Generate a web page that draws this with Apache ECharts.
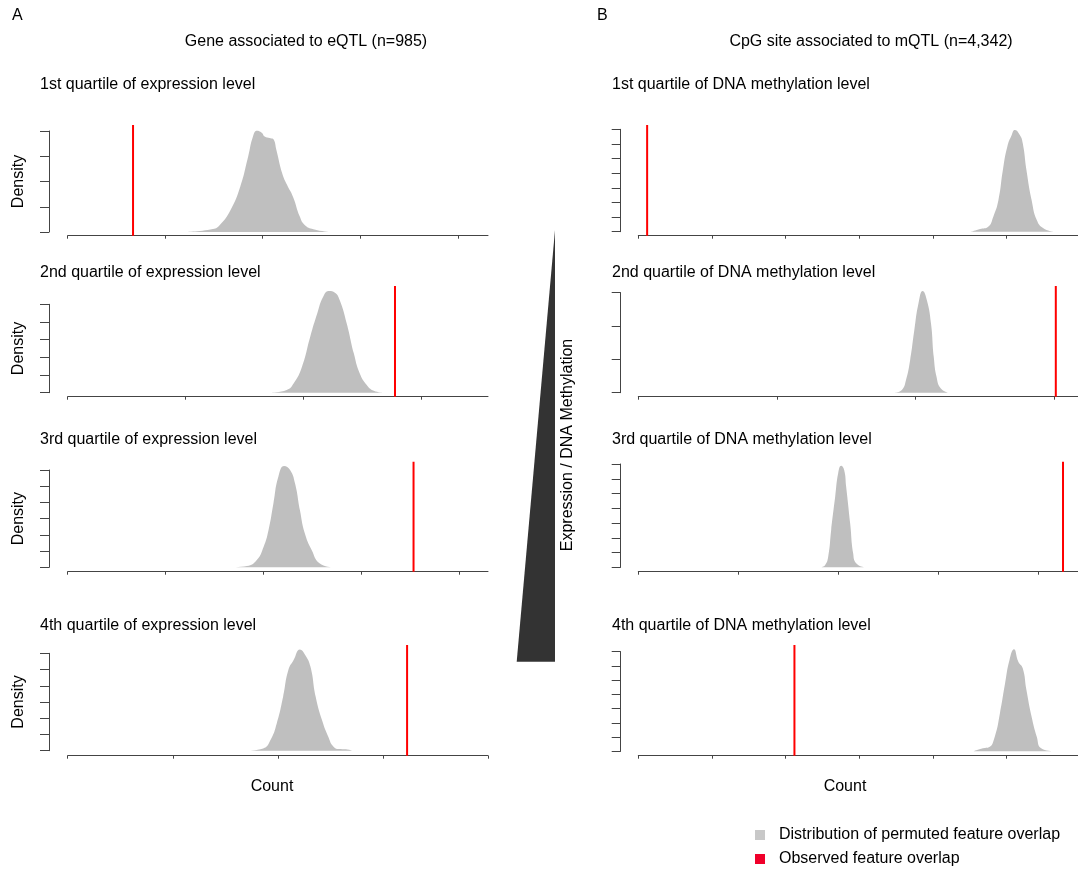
<!DOCTYPE html>
<html>
<head>
<meta charset="utf-8">
<script src="https://cdn.jsdelivr.net/npm/echarts@6/dist/echarts.min.js"></script>
<style>html,body{margin:0;padding:0;background:#fff;}#c{width:1078px;height:873px;}</style>
</head>
<body>
<div id="c"></div>
<script>
// ---------------- DATA ----------------
const headerA = "Gene associated to eQTL (n=985)";
const headerB = "CpG site associated to mQTL (n=4,342)";
const titlesA = ["1st quartile of expression level", "2nd quartile of expression level", "3rd quartile of expression level", "4th quartile of expression level"];
const titlesB = ["1st quartile of DNA methylation level", "2nd quartile of DNA methylation level", "3rd quartile of DNA methylation level", "4th quartile of DNA methylation level"];
const legendNames = ["Distribution of permuted feature overlap", "Observed feature overlap"];

// x values in units of tick spacing (tick labels are not printed in the source)
const xTicksA = [[0,1,2,3,4],[0,1,2,3],[0,1,2,3,4],[0,1,2,3,4]];
const xTicksB = [[0,1,2,3,4,5],[0,1,2,3],[0,1,2,3,4],[0,1,2,3,4,5]];
const xMaxA = [4.31, 3.57, 4.29, 4.0];
const xMaxB = [5.97, 3.17, 4.40, 5.97];
const yMaxA = [4, 5, 6, 6];
const yMaxB = [7, 3, 7, 7];

// observed overlap (red lines)
const observedA = [0.67, 2.78, 3.53, 3.23];
const observedB = [0.12, 3.01, 4.25, 2.12];

// permuted distributions (density curves)
const densA1 = [[1.19,0],[1.49,0.12],[1.56,0.28],[1.67,0.87],[1.77,1.80],[1.85,2.98],[1.90,3.78],[1.94,4.01],[1.99,3.93],[2.02,3.78],[2.08,3.71],[2.11,3.67],[2.14,3.25],[2.20,2.32],[2.25,1.86],[2.31,1.40],[2.38,0.61],[2.43,0.28],[2.52,0.11],[2.69,0]];
const densA2 = [[1.73,0],[1.86,0.15],[1.92,0.53],[1.99,1.47],[2.06,3.17],[2.12,4.49],[2.17,5.43],[2.22,5.75],[2.27,5.66],[2.31,5.24],[2.37,3.92],[2.43,2.23],[2.48,1.10],[2.54,0.44],[2.60,0.11],[2.68,0]];
const densA3 = [[1.66,0],[1.83,0.08],[1.93,0.45],[2.00,1.27],[2.05,2.30],[2.10,3.95],[2.15,5.59],[2.21,6.25],[2.27,6.00],[2.32,5.18],[2.37,3.53],[2.42,2.10],[2.49,1.07],[2.57,0.25],[2.70,0]];
const densA4 = [[1.71,0],[1.86,0.14],[1.93,0.66],[1.99,1.69],[2.05,3.33],[2.10,4.97],[2.15,5.59],[2.21,6.24],[2.26,5.90],[2.31,5.18],[2.36,3.33],[2.42,1.89],[2.48,0.86],[2.53,0.25],[2.59,0.10],[2.66,0.08],[2.71,0]];
const densB1 = [[4.52,0],[4.64,0.18],[4.75,0.34],[4.82,1.03],[4.89,2.17],[4.95,4.22],[5.01,5.81],[5.07,6.61],[5.11,6.95],[5.18,6.61],[5.22,6.04],[5.27,4.22],[5.34,2.17],[5.41,0.80],[5.50,0.23],[5.63,0]];
const densB2 = [[1.85,0],[1.90,0.08],[1.93,0.38],[1.96,0.98],[1.99,1.88],[2.02,2.68],[2.05,3.05],[2.08,2.78],[2.11,2.08],[2.13,1.08],[2.15,0.48],[2.18,0.13],[2.23,0]];
const densB3 = [[1.83,0],[1.87,0.16],[1.90,0.72],[1.93,2.53],[1.97,4.78],[2.00,6.37],[2.03,6.88],[2.06,6.59],[2.08,5.46],[2.12,2.98],[2.15,0.95],[2.18,0.27],[2.26,0]];
const densB4 = [[4.55,0],[4.68,0.21],[4.76,0.28],[4.84,1.03],[4.91,2.67],[4.98,4.78],[5.04,6.42],[5.10,7.17],[5.16,6.30],[5.22,5.83],[5.27,4.31],[5.34,2.43],[5.41,1.03],[5.47,0.21],[5.63,0]];

// ---------------- LAYOUT ----------------
const FONT = "Liberation Sans, Arial, sans-serif";
const cols = [
  {left: 67.7, width: 420.3, yOff: 18.7, titleX: 40, countX: 272, top: [131, 304.3, 470, 653.3], height: [101, 88.4, 97.3, 97.4],
   xTicks: xTicksA, xMax: xMaxA, yMax: yMaxA, obs: observedA, dens: [densA1, densA2, densA3, densA4], titles: titlesA, showName: true},
  {left: 638.3, width: 439.7, yOff: 17.6, titleX: 612, countX: 845, top: [129.3, 292.7, 464, 651.7], height: [102.4, 100, 103.3, 99.6],
   xTicks: xTicksB, xMax: xMaxB, yMax: yMaxB, obs: observedB, dens: [densB1, densB2, densB3, densB4], titles: titlesB, showName: false}
];
const xAxisY = [235.7, 396.7, 571.7, 755.7];
const redTop = [125, 286, 461.7, 645];
const titleY = [85, 273, 440, 626];
const AX = '#444';

const grid = [], xAxis = [], yAxis = [], series = [], graphic = [];
cols.forEach((c, ci) => {
  for (let r = 0; r < 4; r++) {
    const gi = grid.length;
    const bottomY = c.top[r] + c.height[r];
    grid.push({left: c.left, top: c.top[r], width: c.width, height: c.height[r]});
    xAxis.push({gridIndex: gi, type: 'value', min: 0, max: c.xMax[r], position: 'bottom',
      offset: xAxisY[r] - bottomY,
      axisLine: {show: true, onZero: false, lineStyle: {color: AX, width: 1}},
      axisTick: {show: true, length: 3, customValues: c.xTicks[r], lineStyle: {color: AX, width: 1}},
      axisLabel: {show: false}, splitLine: {show: false}});
    yAxis.push({gridIndex: gi, type: 'value', min: 0, max: c.yMax[r], interval: 1, position: 'left',
      offset: c.yOff,
      name: c.showName ? 'Density' : '', nameLocation: 'middle', nameGap: 22,
      nameTextStyle: {fontFamily: FONT, fontSize: 16, color: '#000'},
      axisLine: {show: true, onZero: false, lineStyle: {color: AX, width: 1}},
      axisTick: {show: true, length: 9, lineStyle: {color: AX, width: 1}},
      axisLabel: {show: false}, splitLine: {show: false}});
    series.push({name: legendNames[0], type: 'line', xAxisIndex: gi, yAxisIndex: gi,
      data: c.dens[r], showSymbol: false, smooth: 0.5, clip: false,
      lineStyle: {width: 0, color: '#bfbfbf'}, itemStyle: {color: '#bfbfbf'},
      areaStyle: {color: '#bfbfbf', opacity: 1}, silent: true, z: 2});
    // grid for the observed line (spans the full plot region)
    const gj = grid.length;
    grid.push({left: c.left, top: redTop[r], width: c.width, height: xAxisY[r] - redTop[r]});
    xAxis.push({gridIndex: gj, type: 'value', min: 0, max: c.xMax[r], show: false});
    yAxis.push({gridIndex: gj, type: 'value', min: 0, max: 1, show: false});
    series.push({name: legendNames[1], type: 'line', xAxisIndex: gj, yAxisIndex: gj,
      data: [[c.obs[r], 0], [c.obs[r], 1]], showSymbol: false,
      lineStyle: {width: 2, color: '#ff0000'}, itemStyle: {color: '#f0002a'}, silent: true, z: 3});
    graphic.push({type: 'text', x: c.titleX, y: titleY[r],
      style: {text: c.titles[r], font: '16px ' + FONT, fill: '#000', textVerticalAlign: 'middle'}});
  }
  graphic.push({type: 'text', x: c.countX, y: 787,
    style: {text: 'Count', font: '16px ' + FONT, fill: '#000', textAlign: 'center', textVerticalAlign: 'middle'}});
});

graphic.push({type: 'text', x: 12, y: 16, style: {text: 'A', font: '16px ' + FONT, fill: '#000', textVerticalAlign: 'middle'}});
graphic.push({type: 'text', x: 597, y: 16, style: {text: 'B', font: '16px ' + FONT, fill: '#000', textVerticalAlign: 'middle'}});
graphic.push({type: 'text', x: 306, y: 42, style: {text: headerA, font: '16px ' + FONT, fill: '#000', textAlign: 'center', textVerticalAlign: 'middle'}});
graphic.push({type: 'text', x: 871, y: 42, style: {text: headerB, font: '16px ' + FONT, fill: '#000', textAlign: 'center', textVerticalAlign: 'middle'}});
graphic.push({type: 'polygon', shape: {points: [[555, 230], [516.7, 661.7], [555, 661.7]]}, style: {fill: '#333333'}});
graphic.push({type: 'text', x: 568, y: 445, rotation: Math.PI / 2,
  style: {text: 'Expression / DNA Methylation', font: '16px ' + FONT, fill: '#000', textAlign: 'center', textVerticalAlign: 'middle'}});

const chart = echarts.init(document.getElementById('c'), null, {renderer: 'canvas'});
chart.setOption({
  animation: false,
  backgroundColor: '#fff',
  grid, xAxis, yAxis, series, graphic,
  legend: {
    data: [{name: legendNames[0], itemStyle: {color: '#c8c8c8'}}, {name: legendNames[1], itemStyle: {color: '#f0002a'}}],
    orient: 'vertical', left: 755, top: 827, itemWidth: 10, itemHeight: 10, itemGap: 8, icon: 'rect',
    padding: 0, selectedMode: false,
    textStyle: {fontFamily: FONT, fontSize: 16, color: '#000', padding: [0, 0, 0, 9]}
  }
});
</script>
</body>
</html>
